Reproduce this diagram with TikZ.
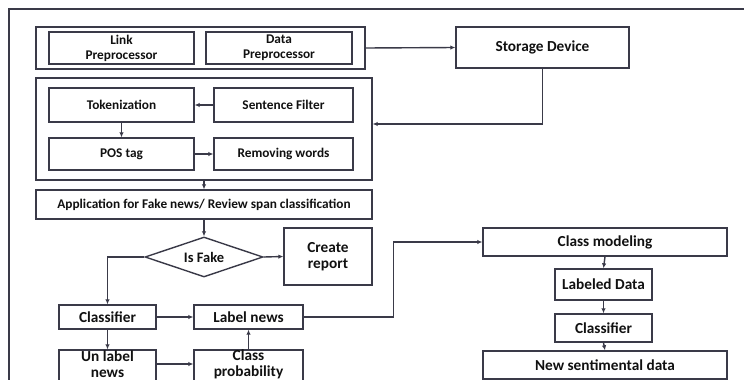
\documentclass[tikz,border=0pt]{standalone}
\usepackage{fontspec}
\setmainfont{Carlito}
\usetikzlibrary{shapes.geometric,arrows.meta}
\definecolor{ink}{HTML}{3A3A48}
\definecolor{txt}{HTML}{111111}
\tikzset{
  box/.style={draw=ink, line width=1.4pt, rectangle, inner sep=1pt, align=center,
    text=txt, font=\bfseries\fontsize{13.3}{15}\selectfont},
  bigbox/.style={box, font=\bfseries\fontsize{15.3}{16}\selectfont},
  caption/.style={align=center, inner sep=0pt, text=txt, font=\bfseries\fontsize{15.3}{16}\selectfont},
  grp/.style={draw=ink, line width=1.4pt, rectangle, inner sep=0pt},
  arr/.style={draw=ink, line width=1.4pt, -{Latex[length=5pt,width=4.5pt]}},
  link/.style={draw=ink, line width=1.4pt},
}
\begin{document}
\begin{tikzpicture}[x=1pt, y=-1pt]
\useasboundingbox (0,0) rectangle (744,380);
\clip (0,0) rectangle (744,380);
\fill[white] (0,0) rectangle (744,380);
% outer frame (only its top and left sides fall inside the page)
\draw[link] (9,400) -- (9,9) -- (760,9);

% preprocessing group
\node[grp, minimum width=329, minimum height=42] (grp1) at (200.5,48) {};
\node[box, minimum width=145, minimum height=32] (lnk) at (121.5,48) {Link\\Preprocessor};
\node[box, minimum width=146, minimum height=32] (dat) at (279,48) {Data\\Preprocessor};
\node[bigbox, minimum width=173, minimum height=41] (sto) at (542.5,47.5) {Storage Device};

% text processing group
\node[grp, minimum width=336, minimum height=102] (grp2) at (204,129) {};
\node[box, minimum width=145, minimum height=34] (tok) at (121.5,105) {Tokenization};
\node[box, minimum width=139, minimum height=34] (sen) at (283.5,105) {Sentence Filter};
\node[box, minimum width=145, minimum height=32] (pos) at (121.5,154) {POS tag};
\node[box, minimum width=139, minimum height=32] (rem) at (283.5,154) {Removing words};

% classification flow
\node[box, minimum width=336, minimum height=29] (app) at (204,204.5) {Application for Fake news/ Review span classification};
\node[box, shape=diamond, aspect=3, inner sep=0pt, minimum width=118, minimum height=40,
  font=\bfseries\fontsize{14.5}{16}\selectfont] (dia) at (204,257) {Is Fake};
\node[bigbox, minimum width=88, minimum height=57] (rep) at (328,256.5) {Create\\report};
\node[bigbox, minimum width=97, minimum height=24] (cl1) at (107.5,317) {Classifier};
\node[bigbox, minimum width=109, minimum height=24] (lab) at (248.5,317) {Label news};
\node[grp, minimum width=97, minimum height=40] (unl) at (107.5,370) {};
\node[caption] (unlt) at (107.5,364) {Un label\\news};
\node[grp, minimum width=109, minimum height=40] (prb) at (248.5,370) {};
\node[caption] (prbt) at (248.5,364) {Class\\probability};

% modelling chain
\node[bigbox, minimum width=244, minimum height=28] (cmo) at (605,242) {Class modeling};
\node[bigbox, minimum width=97, minimum height=31] (ldt) at (603.5,284.5) {Labeled Data};
\node[bigbox, minimum width=97, minimum height=28] (cl2) at (603.5,328) {Classifier};
\node[bigbox, minimum width=244, minimum height=28] (nsd) at (605,365) {New sentimental data};

% connectors
\draw[arr] (grp1.east) -- (sto.west);
\draw[arr] (sto.south) |- ([yshift=5pt]grp2.east);
\draw[arr] (sen.west) -- (tok.east);
\draw[arr] (tok.south) -- (pos.north);
\draw[arr] (pos.east) -- (rem.west);
\draw[arr] (grp2.south) -- (app.north);
\draw[arr] (app.south) -- (dia.north);
\draw[arr] (dia.east) -- (rep.west);
\draw[arr] (dia.west) -| (cl1.north);
\draw[arr] (cl1.east) -- (lab.west);
\draw[arr] (cl1.south) -- (unl.north);
\draw[arr] (unlt.center -| unl.east) -- (unlt.center -| prb.west);
\draw[arr] (prb.north) -- (lab.south);
\draw[arr] (lab.east) -- ++(90,0) |- (cmo.west);
\draw[arr] (cmo.south) -- (ldt.north);
\draw[arr] (ldt.south) -- (cl2.north);
\draw[arr] (cl2.south) -- (nsd.north);
\end{tikzpicture}
\end{document}
